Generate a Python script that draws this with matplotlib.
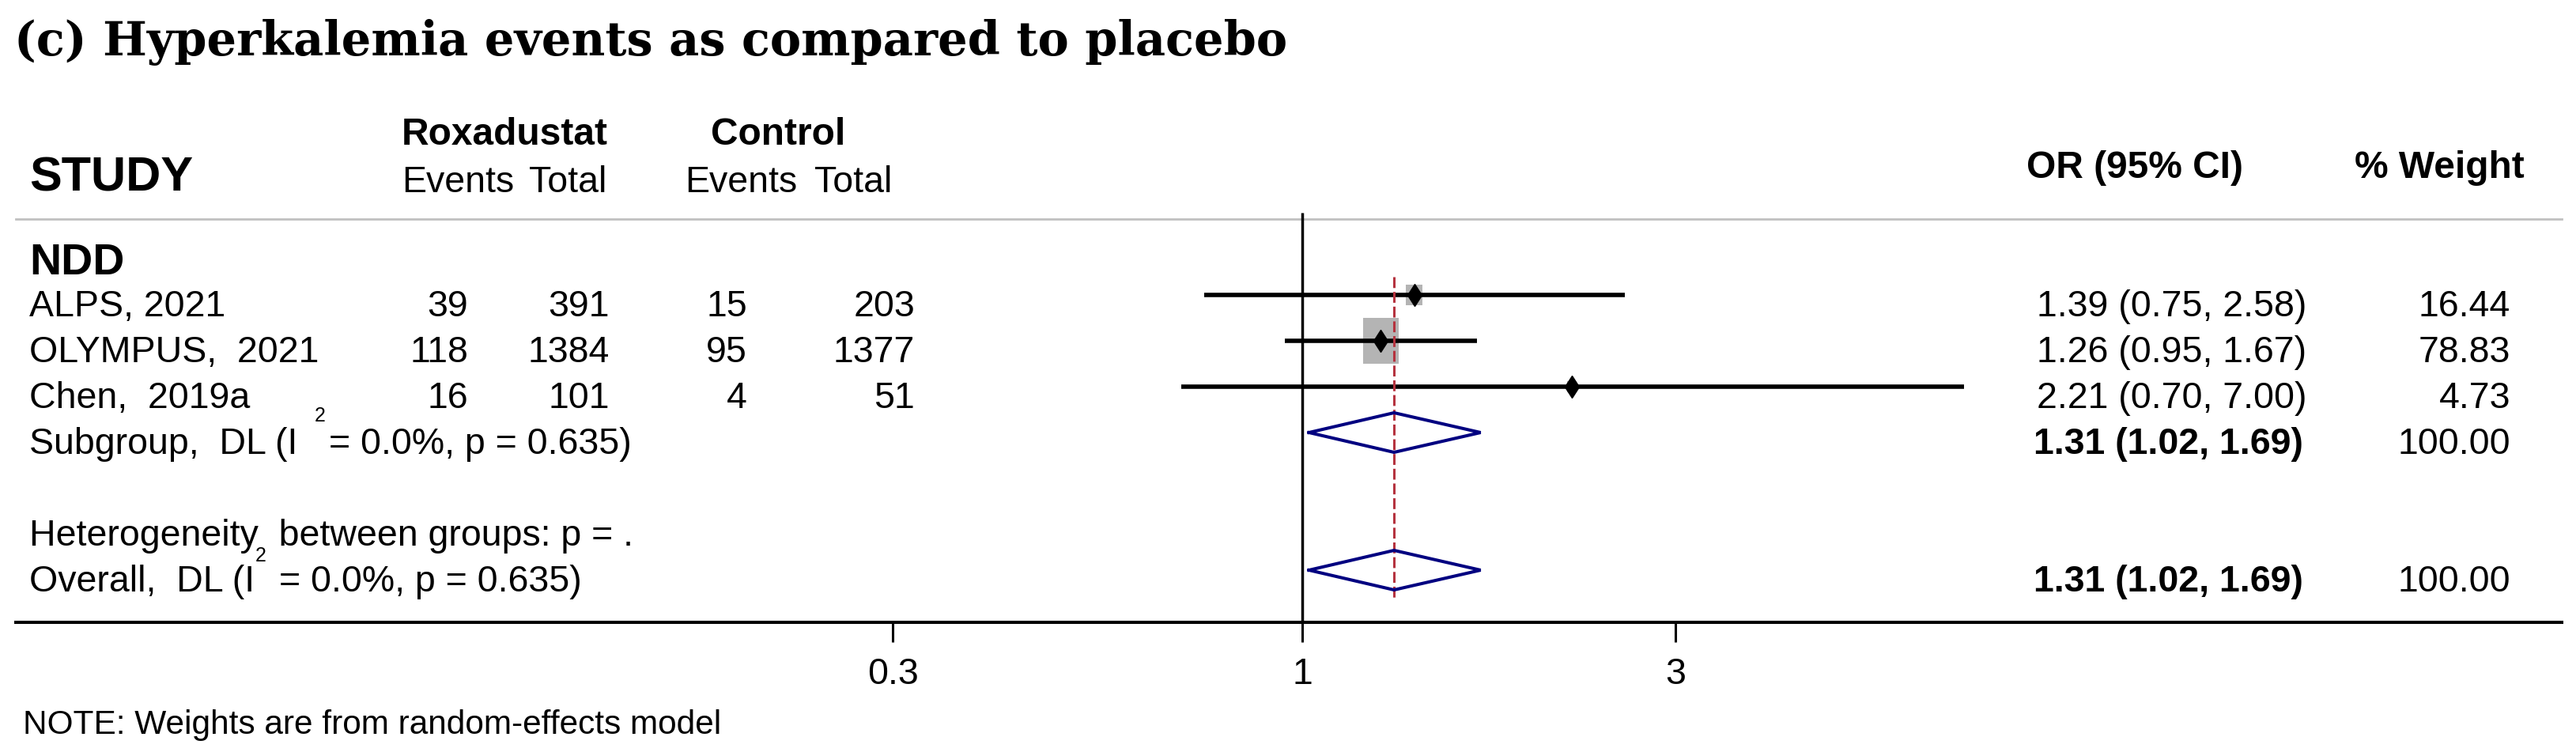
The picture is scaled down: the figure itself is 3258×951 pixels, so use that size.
import numpy as np
import matplotlib
matplotlib.use('Agg')
import matplotlib.pyplot as plt
from matplotlib.path import Path
from matplotlib.ticker import NullLocator

plt.rcParams['font.family'] = ['Liberation Sans', 'DejaVu Sans']

# --- datos ---
studies = ['ALPS, 2021', 'OLYMPUS,  2021', 'Chen,  2019a']
roxa_events = [39, 118, 16]
roxa_total = [391, 1384, 101]
ctrl_events = [15, 95, 4]
ctrl_total = [203, 1377, 51]
or_est = [1.39, 1.26, 2.21]
or_lo = [0.75, 0.95, 0.70]
or_hi = [2.58, 1.67, 7.00]
weights = [16.44, 78.83, 4.73]
pooled_est, pooled_lo, pooled_hi = 1.31, 1.02, 1.69
pooled_weight = 100.00
x_ticks = [0.3, 1, 3]
x_ticklabels = ['0.3', '1', '3']

title = '(c) Hyperkalemia events as compared to placebo'
note = 'NOTE: Weights are from random-effects model'

# --- layout (pixeles de la figura) ---
W, H = 3258, 951
rows = 315 + 58 * np.arange(8)      # NDD, 3 estudios, subgrupo, vacio, heterog., overall
study_rows = rows[1:4]
sub_row, het_row, all_row = rows[4], rows[6], rows[7]
BASE = 27                             # baseline del texto respecto a la fila
FS = 33.5
x_one, px_per_ln = 1647, 430          # posicion de OR=1 y escala log
navy = '#000080'

fig = plt.figure(figsize=(W / 100, H / 100), dpi=100)
ax_t = fig.add_axes([0, 0, 1, 1])
ax_t.set_xlim(0, W); ax_t.set_ylim(H, 0); ax_t.axis('off')

ax = fig.add_axes([20 / W, (H - 787) / H, 3220 / W, (787 - 260) / H])
ax.set_facecolor('none')
ax.set_xscale('log')
ax.set_xlim(np.exp((20 - x_one) / px_per_ln), np.exp((3240 - x_one) / px_per_ln))
ax.set_ylim(787, 260)
for s in ['top', 'left', 'right']:
    ax.spines[s].set_visible(False)
ax.spines['bottom'].set_linewidth(2.9)
ax.set_yticks([])
ax.set_xticks(x_ticks)
ax.set_xticklabels(x_ticklabels)
ax.xaxis.set_minor_locator(NullLocator())
ax.tick_params(axis='x', length=18, width=2.2, pad=14, labelsize=FS, direction='out')

# --- encabezados ---
ax_t.text(18, 70, title, family=['DejaVu Serif'],
          fontweight='bold', fontsize=42.5, va='baseline')
ax_t.text(37, 242, 'STUDY', fontweight='bold', fontsize=44, va='baseline')
ax_t.text(508, 183, 'Roxadustat', fontweight='bold', fontsize=34.5, va='baseline')
ax_t.text(984, 183, 'Control', fontweight='bold', fontsize=34.5, va='baseline', ha='center')
for x_ev, x_tot in [(508, 767), (866, 1128)]:
    ax_t.text(x_ev, 243, 'Events', fontsize=FS, va='baseline')
    ax_t.text(x_tot, 243, 'Total', fontsize=FS, va='baseline', ha='right')
ax_t.text(2563, 225, 'OR (95% CI)', fontweight='bold', fontsize=34.5, va='baseline')
ax_t.text(2978, 225, '% Weight', fontweight='bold', fontsize=34.5, va='baseline')
ax_t.plot([20, 3240], [277, 277], color='#c0c0c0', lw=2)

ax_t.text(37, rows[0] + 32, 'NDD', fontweight='bold', fontsize=40, va='baseline')

# --- filas de estudios ---
for i, y in enumerate(study_rows):
    b = y + BASE
    ax_t.text(37, b, studies[i], fontsize=FS, va='baseline')
    for xr, v in zip([592, 771, 945, 1157],
                     [roxa_events[i], roxa_total[i], ctrl_events[i], ctrl_total[i]]):
        ax_t.text(xr, b, str(v), fontsize=FS, va='baseline', ha='right')
    ax_t.text(2576, b, f'{or_est[i]:.2f} ({or_lo[i]:.2f}, {or_hi[i]:.2f})',
              fontsize=FS, va='baseline')
    ax_t.text(3175, b, f'{weights[i]:.2f}', fontsize=FS, va='baseline', ha='right')


def fila_pooled(y, label, sup_dx, sup_dy, rest_dx):
    t1 = ax_t.text(37, y + BASE, label, fontsize=FS, va='baseline')
    ax_t.annotate('2', xy=(1, 1), xycoords=t1, xytext=(sup_dx, sup_dy),
                  textcoords='offset pixels', fontsize=18, va='bottom', ha='left')
    ax_t.annotate('= 0.0%, p = 0.635)', xy=(1, 0), xycoords=t1, xytext=(rest_dx, 0),
                  textcoords='offset pixels', fontsize=FS, va='bottom', ha='left')
    ax_t.text(2572, y + BASE, f'{pooled_est:.2f} ({pooled_lo:.2f}, {pooled_hi:.2f})',
              fontsize=FS, fontweight='bold', va='baseline')
    ax_t.text(3175, y + BASE, f'{pooled_weight:.2f}', fontsize=FS, va='baseline', ha='right')
    dx = [pooled_lo, pooled_est, pooled_hi, pooled_est, pooled_lo]
    dy = [y, y - 25, y, y + 25, y]
    ax.plot(dx, dy, color=navy, lw=2.9, solid_joinstyle='miter', zorder=5)


fila_pooled(sub_row, 'Subgroup,  DL (I', 21, 2, 40)
ax_t.text(37, het_row + BASE, 'Heterogeneity  between groups: p = .', fontsize=FS, va='baseline')
fila_pooled(all_row, 'Overall,  DL (I', 1, -1, 31)

# --- grafico de bosque ---
box = Path([(-0.39, -0.5), (0.39, -0.5), (0.39, 0.5), (-0.39, 0.5), (-0.39, -0.5)],
           [Path.MOVETO, Path.LINETO, Path.LINETO, Path.LINETO, Path.CLOSEPOLY])
ax.scatter(or_est, study_rows, marker=box, s=22.2 * np.array(weights),
           color='#b4b4b4', linewidths=0, zorder=2)
ax.hlines(study_rows, or_lo, or_hi, color='black', lw=4, zorder=3)
ax.vlines(1, 269, 787, color='black', lw=2.5, zorder=3, clip_on=False)
ax.vlines(pooled_est, 350, 756, color='#b5333f', lw=2.2, linestyles=(0, (4.5, 1.6)), zorder=4)
ax.plot(or_est, study_rows, ls='none', marker='d', ms=14.5, color='black', zorder=6)

ax_t.text(29, 928, note, fontsize=30.5, va='baseline')

fig.savefig('out.png', dpi=100)
